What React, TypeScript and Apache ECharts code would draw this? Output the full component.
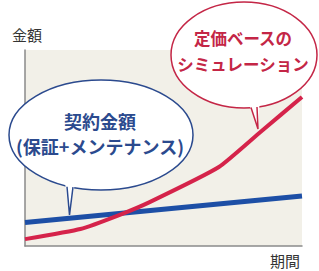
import React, { useEffect, useRef } from "react";
import * as echarts from "echarts";

const periods = [0, 2, 3.4, 4.5, 7, 8.5, 10];
const teikaValues = [3.5, 8.7, 15.8, 22.4, 40.3, 58.2, 76];
const keiyakuPeriods = [0, 10];
const keiyakuValues = [12, 25.5];
const yAxisName = "金額";
const xAxisName = "期間";
const redLines = ["定価ベースの", "シミュレーション"];
const blueLines = ["契約金額", "(保証+メンテナンス)"];

const FONT = '"Noto Sans CJK JP", "Noto Sans", sans-serif';
const RED = "#d5234a";
const BLUE = "#1d4fa6";
const RED_TEXT = "#c42646";
const BLUE_TEXT = "#2b4a8e";

export default function App() {
  const ref = useRef<HTMLDivElement>(null);
  useEffect(() => {
    if (!ref.current) return;
    const chart = echarts.init(ref.current, undefined, { renderer: "svg" });
    const redData = periods.map((p, i) => [p, teikaValues[i]]);
    const blueData = keiyakuPeriods.map((p, i) => [p, keiyakuValues[i]]);
    chart.setOption({
      animation: false,
      backgroundColor: "#ffffff",
      grid: {
        left: 25,
        right: 17,
        top: 50,
        bottom: 25,
        show: true,
        backgroundColor: "#f2f0e8",
        borderWidth: 0,
      },
      xAxis: {
        type: "value",
        min: 0,
        max: 10,
        name: xAxisName,
        nameLocation: "end",
        nameGap: -32,
        nameTextStyle: {
          fontFamily: FONT,
          fontSize: 15,
          color: "#333333",
          align: "left",
          verticalAlign: "top",
          padding: [7, 0, 0, 0],
        },
        axisLine: { show: true, lineStyle: { color: "#8a8a8a", width: 1.5 } },
        axisTick: { show: false },
        axisLabel: { show: false },
        splitLine: { show: false },
      },
      yAxis: {
        type: "value",
        min: 0,
        max: 100,
        name: yAxisName,
        nameLocation: "end",
        nameGap: 8,
        nameTextStyle: {
          fontFamily: FONT,
          fontSize: 15,
          color: "#333333",
          align: "center",
          padding: [0, 0, 0, 4],
        },
        axisLine: { show: true, lineStyle: { color: "#8a8a8a", width: 1.5 } },
        axisTick: { show: false },
        axisLabel: { show: false },
        splitLine: { show: false },
      },
      series: [
        {
          type: "line",
          data: blueData,
          symbol: "none",
          lineStyle: { color: BLUE, width: 5 },
          z: 2,
        },
        {
          type: "line",
          data: redData,
          symbol: "none",
          smooth: 0.15,
          lineStyle: { color: RED, width: 4 },
          z: 3,
        },
      ],
      graphic: [
        {
          type: "ellipse",
          shape: { cx: 101, cy: 135, rx: 92, ry: 55 },
          style: { fill: "#ffffff", stroke: BLUE_TEXT, lineWidth: 1.5 },
          z: 10,
        },
        {
          type: "polygon",
          shape: { points: [[65, 183], [69.5, 215], [75, 183]] },
          style: { fill: "#ffffff" },
          z: 11,
        },
        {
          type: "polyline",
          shape: { points: [[67, 186.8], [69.5, 215], [73, 187.2]] },
          style: { stroke: BLUE_TEXT, lineWidth: 1.5, fill: null },
          z: 12,
        },
        {
          type: "text",
          style: {
            text: blueLines[0],
            x: 100,
            y: 121,
            fill: BLUE_TEXT,
            font: `bold 18px ${FONT}`,
            align: "center",
            verticalAlign: "middle",
          },
          z: 13,
        },
        {
          type: "text",
          style: {
            text: blueLines[1],
            x: 100,
            y: 146,
            fill: BLUE_TEXT,
            font: `bold 18px ${FONT}`,
            align: "center",
            verticalAlign: "middle",
          },
          z: 13,
        },
        {
          type: "ellipse",
          shape: { cx: 244, cy: 55, rx: 73, ry: 53 },
          style: { fill: "#ffffff", stroke: RED_TEXT, lineWidth: 1.5 },
          z: 10,
        },
        {
          type: "polygon",
          shape: { points: [[249, 104], [258, 129], [259.5, 104]] },
          style: { fill: "#ffffff" },
          z: 11,
        },
        {
          type: "polyline",
          shape: { points: [[251, 107.5], [258, 129], [257, 107]] },
          style: { stroke: RED_TEXT, lineWidth: 1.5, fill: null },
          z: 12,
        },
        {
          type: "text",
          style: {
            text: redLines[0],
            x: 243,
            y: 38,
            fill: RED_TEXT,
            font: `bold 16.5px ${FONT}`,
            align: "center",
            verticalAlign: "middle",
          },
          z: 13,
        },
        {
          type: "text",
          style: {
            text: redLines[1],
            x: 243,
            y: 64,
            fill: RED_TEXT,
            font: `bold 16.5px ${FONT}`,
            align: "center",
            verticalAlign: "middle",
          },
          z: 13,
        },
      ],
    });
    return () => chart.dispose();
  }, []);
  return (
    <div
      ref={ref}
      style={{ position: "fixed", left: 0, top: 0, width: 319, height: 271 }}
    />
  );
}
